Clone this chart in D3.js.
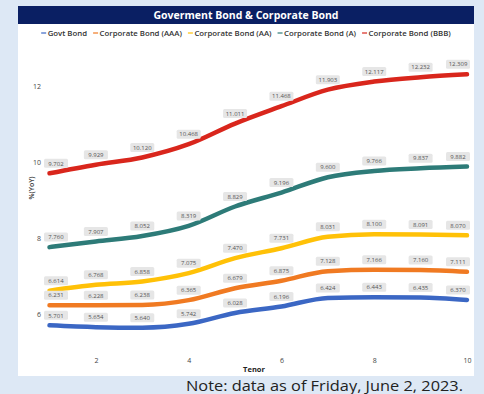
<!DOCTYPE html>
<html><head><meta charset="utf-8">
<script src="https://cdn.jsdelivr.net/npm/d3@7"></script>
<style>
html,body{margin:0;padding:0;background:#dde8f5;}
svg{display:block;}
text{font-family:"Open Sans","Liberation Sans",sans-serif;}
</style></head><body>
<svg id="c" width="484" height="394"></svg>
<script>
const tenors = [1,2,3,4,5,6,7,8,9,10];
const seriesNames = ["Govt Bond","Corporate Bond (AAA)","Corporate Bond (AA)","Corporate Bond (A)","Corporate Bond (BBB)"];
const govt = [5.701,5.654,5.640,5.742,6.028,6.196,6.424,6.443,6.435,6.370];
const aaa  = [6.231,6.228,6.238,6.365,6.679,6.875,7.128,7.166,7.160,7.111];
const aa   = [6.614,6.768,6.858,7.075,7.470,7.731,8.031,8.100,8.091,8.070];
const a    = [7.760,7.907,8.052,8.319,8.829,9.196,9.600,9.766,9.837,9.882];
const bbb  = [9.702,9.929,10.120,10.468,11.011,11.468,11.903,12.117,12.232,12.309];
const colors = ["#3b67c4","#f07a22","#ffc107","#2d7b78","#d9261c"];
const xTicks = [2,4,6,8,10];
const yTicks = [6,8,10,12];
const allSeries = [govt,aaa,aa,a,bbb];

const svg = d3.select("#c");
svg.append("rect").attr("x",18).attr("y",6).attr("width",456).attr("height",370).attr("fill","#fff");
svg.append("rect").attr("x",18).attr("y",6).attr("width",456).attr("height",18).attr("fill","#0a1f63");
svg.append("text").attr("x",246).attr("y",19).attr("text-anchor","middle")
  .attr("fill","#fff").attr("font-size",10.5).attr("font-weight",700).text("Goverment Bond & Corporate Bond");

const lg = svg.append("g");
const items = [];
seriesNames.forEach((n,i)=>{
  const g = lg.append("g");
  g.append("line").attr("x1",0).attr("x2",5).attr("y1",0).attr("y2",0).attr("stroke",colors[i]).attr("stroke-width",1.2);
  const t = g.append("text").attr("x",6.5).attr("y",2.7).attr("font-size",7.8).attr("font-weight",600).attr("fill","#333").text(n);
  items.push({g, w: 6.5 + t.node().getComputedTextLength()});
});
let total = items.reduce((s,d)=>s+d.w,0) + 6*(items.length-1);
let lx = 246 - total/2;
items.forEach(d=>{ d.g.attr("transform",`translate(${lx},33)`); lx += d.w + 6; });

const x = d3.scaleLinear().domain([1,10]).range([49.5,467]);
const y = d3.scaleLinear().domain([6,12]).range([314,86]);

const xa = svg.append("g").attr("transform","translate(0,352)")
  .call(d3.axisBottom(x).tickValues(xTicks).tickFormat(d3.format("d")).tickSize(0).tickPadding(6));
xa.select(".domain").remove();
xa.selectAll("text").style("font-size","7px").style("fill","#444").style("font-family","Open Sans, sans-serif");
const ya = svg.append("g").attr("transform","translate(41,0)")
  .call(d3.axisLeft(y).tickValues(yTicks).tickFormat(d3.format("d")).tickSize(0).tickPadding(0));
ya.select(".domain").remove();
ya.selectAll("text").style("font-size","7px").style("fill","#444").style("font-family","Open Sans, sans-serif");

svg.append("text").attr("x",254).attr("y",372).attr("text-anchor","middle").attr("font-size",7.5).attr("font-weight",700).attr("fill","#222").text("Tenor");
svg.append("text").attr("transform","translate(34,188) rotate(-90)").attr("text-anchor","middle").attr("font-size",7).attr("font-weight",600).attr("fill","#444").text("%(YoY)");

const line = d3.line().x((d,i)=>x(tenors[i])).y(d=>y(d)).curve(d3.curveMonotoneX);
allSeries.forEach((s,i)=>{
  svg.append("path").datum(s).attr("d",line).attr("fill","none").attr("stroke",colors[i])
    .attr("stroke-width",4.5).attr("stroke-linecap","round");
});
const bw = 24;
allSeries.forEach((s,i)=>{
  s.forEach((v,j)=>{
    let cx = x(tenors[j]);
    cx = Math.max(44 + bw/2, Math.min(470 - bw/2, cx));
    const cy = y(v) - 10;
    const g = svg.append("g");
    g.append("rect").attr("x",cx-bw/2).attr("y",cy-4.5).attr("width",bw).attr("height",9).attr("rx",1.5).attr("fill","#e6e6e6");
    g.append("text").attr("x",cx).attr("y",cy+2.2).attr("text-anchor","middle").attr("font-size",6).attr("fill","#555").text(v.toFixed(3));
  });
});

svg.append("text").attr("x",186).attr("y",391).attr("font-size",15)
  .attr("textLength",277).attr("lengthAdjust","spacingAndGlyphs")
  .attr("fill","#222").attr("font-family","Liberation Sans Narrow, Roboto, sans-serif").text("Note: data as of Friday, June 2, 2023.");
</script>
</body></html>
